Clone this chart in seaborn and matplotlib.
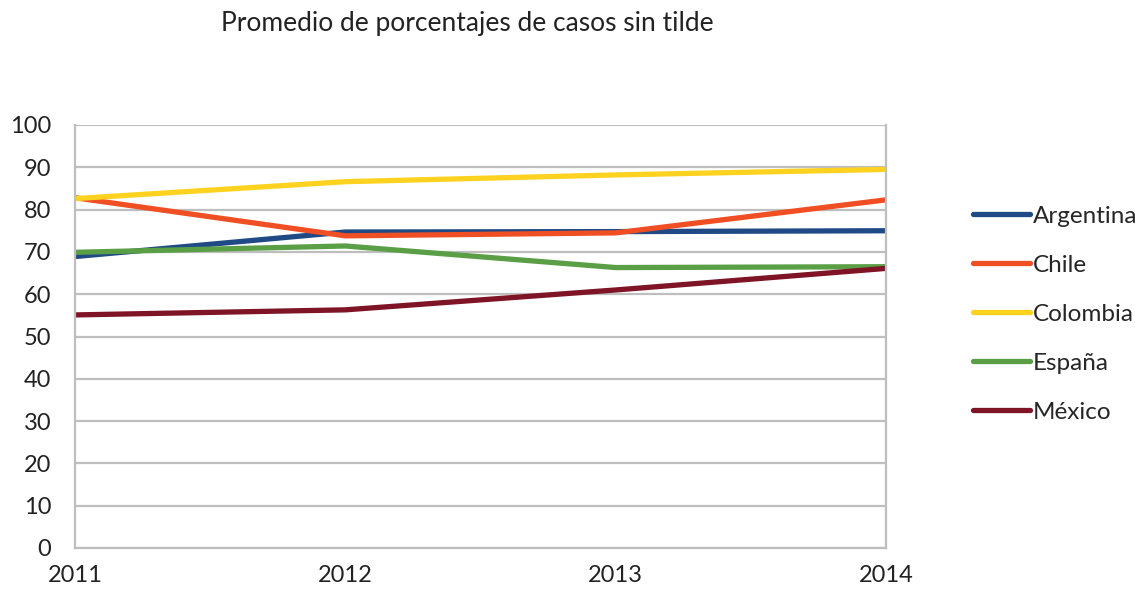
import pandas as pd
import seaborn as sns
import matplotlib.pyplot as plt

years = [2011, 2012, 2013, 2014]
argentina = [68.9, 74.7, 74.8, 75.0]
chile = [82.8, 73.8, 74.5, 82.3]
colombia = [82.6, 86.6, 88.2, 89.5]
espana = [69.9, 71.4, 66.3, 66.5]
mexico = [55.1, 56.3, 61.0, 66.1]

paises = ['Argentina', 'Chile', 'Colombia', 'España', 'México']
colores = ['#1F4A86', '#F04E23', '#FFD21F', '#5A9F45', '#7E1426']

rows = []
for pais, vals in zip(paises, [argentina, chile, colombia, espana, mexico]):
    for y, v in zip(years, vals):
        rows.append({'anio': y, 'valor': v, 'pais': pais})
df = pd.DataFrame(rows)

sns.set_style('white')
plt.rcParams['font.family'] = ['Lato', 'DejaVu Sans']

fig = plt.figure(figsize=(11.35, 5.91), dpi=100)
ax = fig.add_axes([75/1135, 1 - 548/591, (886-75)/1135, (548-125)/591])

sns.lineplot(data=df, x='anio', y='valor', hue='pais', palette=colores,
             linewidth=3.8, ax=ax, legend=True)

ax.set_xlim(2011, 2014)
ax.set_ylim(0, 100)
ax.set_xticks(years)
ax.set_yticks(range(0, 101, 10))
ax.tick_params(axis='both', labelsize=17, length=0, colors='#222222')
ax.tick_params(axis='x', pad=12)
ax.tick_params(axis='y', pad=17)
ax.yaxis.grid(True, color='#BEBEBE', linewidth=1.6)
ax.set_axisbelow(True)
for s in ['left', 'bottom', 'right']:
    ax.spines[s].set_color('#BEBEBE')
    ax.spines[s].set_linewidth(1.6)
ax.spines['top'].set_visible(False)
ax.set_xlabel('')
ax.set_ylabel('')

leg = ax.legend(loc='upper left', bbox_to_anchor=(951/1135, 1 - 184/591),
                bbox_transform=fig.transFigure, frameon=False,
                fontsize=17.5, handlelength=2.35, handletextpad=0.1, labelspacing=1.15)
for line in leg.get_lines():
    line.set_linewidth(3.8)

fig.text(467/1135, 1 - 24/591, 'Promedio de porcentajes de casos sin tilde',
         ha='center', va='center', fontsize=19, color='#222222')

fig.savefig('out.png', dpi=100)
